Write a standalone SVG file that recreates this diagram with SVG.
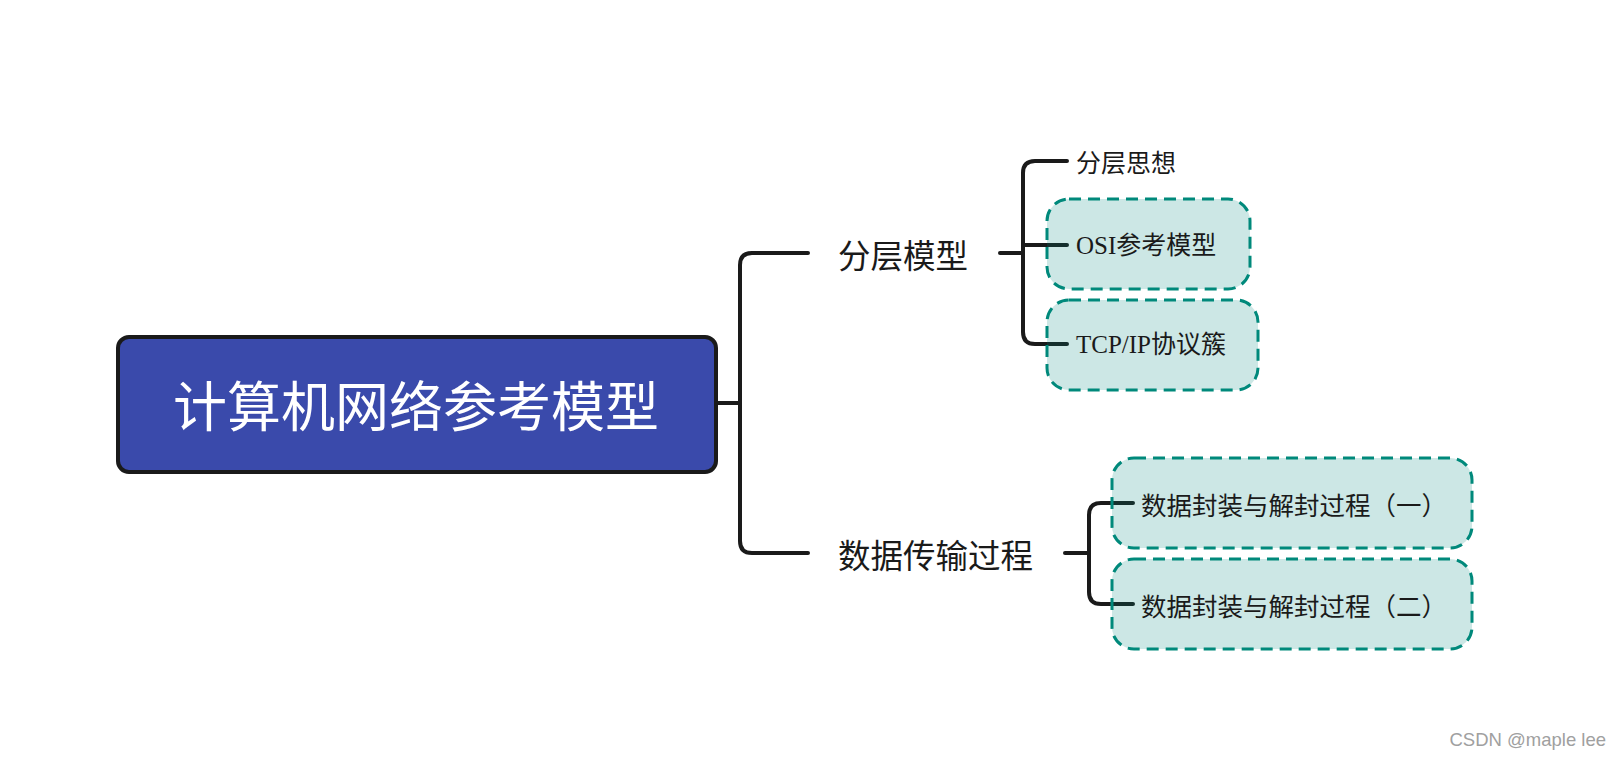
<svg xmlns="http://www.w3.org/2000/svg" width="1621" height="760" viewBox="0 0 1621 760">
<style>
.conn{fill:none;stroke:#1a1a1a;stroke-width:4;stroke-linecap:round;stroke-linejoin:round}
.sub{fill:#00897b;fill-opacity:0.2;stroke:#00897b;stroke-width:3;stroke-dasharray:12 7}
.t{font-family:"Noto Sans CJK SC",sans-serif;fill:#1a1a1a;dominant-baseline:central}
.s{font-family:"Liberation Serif","Noto Sans CJK SC",serif;fill:#1a1a1a;dominant-baseline:central}
</style>
<rect width="1621" height="760" fill="#ffffff"/>
<g id="connectors">
<path class="conn" d="M716 403 H740" stroke-width="3.5"/>
<path class="conn" d="M808 253 H752 Q740 253 740 265 V541 Q740 553 752 553 H808"/>
<path class="conn" d="M1000 253 H1023"/>
<path class="conn" d="M1067 161 H1035 Q1023 161 1023 173 V332 Q1023 344 1035 344 H1067"/>
<path class="conn" d="M1023 245 H1067"/>
<path class="conn" d="M1065 553 H1089"/>
<path class="conn" d="M1133 503 H1101 Q1089 503 1089 515 V592 Q1089 604 1101 604 H1133"/>
</g>
<g id="root">
<rect x="118" y="337" width="598" height="135" rx="11" fill="#3a4aab" stroke="#1a1a1a" stroke-width="4"/>
<text x="416" y="403" text-anchor="middle" font-family="Noto Sans CJK SC, sans-serif" font-size="54" fill="#ffffff" dominant-baseline="central">计算机网络参考模型</text>
</g>
<g id="n-fenceng">
<text class="t" x="838" y="253" font-size="32.5">分层模型</text>
</g>
<g id="n-sixiang">
<text class="t" x="1076" y="161" font-size="25">分层思想</text>
</g>
<g id="n-osi">
<rect class="sub" x="1047" y="199" width="203" height="90" rx="22"/>
<text class="s" x="1076" y="245" font-size="25">OSI参考模型</text>
</g>
<g id="n-tcpip">
<rect class="sub" x="1047" y="300" width="211" height="90" rx="22"/>
<text class="s" x="1076" y="344" font-size="25">TCP/IP协议簇</text>
</g>
<g id="n-shuju">
<text class="t" x="838" y="553" font-size="32.5">数据传输过程</text>
</g>
<g id="n-feng1">
<rect class="sub" x="1112" y="458" width="360" height="90" rx="22"/>
<text class="t" x="1141" y="503" font-size="25.5">数据封装与解封过程（一）</text>
</g>
<g id="n-feng2">
<rect class="sub" x="1112" y="559" width="360" height="90" rx="22"/>
<text class="t" x="1141" y="604" font-size="25.5">数据封装与解封过程（二）</text>
</g>
<text x="1606" y="746" text-anchor="end" font-family="Liberation Sans, Arial, sans-serif" font-size="18.5" fill="#a0a0a0">CSDN @maple lee</text>
</svg>
